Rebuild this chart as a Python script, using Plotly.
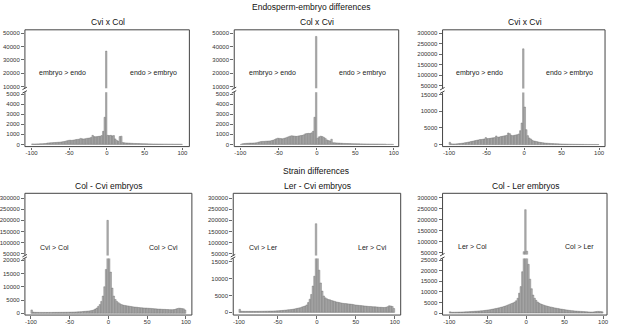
import plotly.graph_objects as go

W, H = 617, 325

# ---------------- data ----------------
bin_left = list(range(-100, 100, 2))          # histogram bins of width 2
bin_centers = [b + 1 for b in bin_left]

cvi_x_col = [50, 40, 40, 50, 50, 60, 60, 70, 80, 90,
             140, 150, 160, 170, 180, 190, 200, 210, 220, 240,
             260, 280, 320, 360, 400, 420, 400, 420, 450, 480,
             500, 520, 600, 560, 540, 560, 600, 620, 640, 700,
             900, 780, 760, 780, 800, 820, 880, 1300, 2700, 36500,
             900, 880, 900, 850, 880, 550, 400, 320, 780, 820,
             180, 160, 150, 140, 130, 120, 110, 100, 95, 90,
             85, 80, 75, 70, 65, 60, 55, 50, 50, 45,
             40, 40, 35, 35, 30, 30, 30, 25, 25, 25,
             20, 20, 20, 20, 15, 15, 15, 15, 10, 10]

col_x_cvi = [0, 60, 80, 100, 110, 120, 130, 130, 140, 150,
             160, 200, 250, 280, 300, 300, 320, 330, 340, 350,
             380, 420, 480, 560, 620, 600, 580, 560, 600, 650,
             700, 760, 820, 860, 840, 820, 800, 820, 850, 880,
             900, 950, 1050, 1080, 1100, 1080, 1150, 1300, 2700, 47500,
             620, 760, 820, 780, 700, 600, 450, 380, 350, 520,
             170, 160, 150, 140, 130, 120, 110, 100, 95, 90,
             85, 80, 75, 70, 65, 60, 55, 55, 50, 50,
             45, 45, 40, 40, 35, 35, 35, 30, 30, 30,
             25, 25, 25, 20, 20, 0, 0, 0, 0, 0]

cvi_x_cvi = [700, 250, 200, 200, 220, 250, 300, 350, 400, 450,
             550, 600, 700, 800, 900, 1000, 1100, 1200, 1300, 1400,
             1500, 1550, 1600, 1700, 2100, 1800, 1850, 1900, 2000, 2050,
             2100, 2600, 2200, 2300, 2400, 2500, 2600, 2700, 2800, 3500,
             3300, 2800, 2700, 2800, 2900, 3000, 3200, 4200, 6500, 225000,
             11300, 4500, 2700, 2000, 1700, 1300, 1100, 1000, 900, 800,
             700, 620, 560, 500, 450, 420, 380, 350, 320, 300,
             280, 260, 240, 220, 200, 180, 170, 160, 150, 140,
             130, 120, 110, 100, 95, 90, 85, 80, 75, 70,
             65, 60, 55, 50, 50, 45, 45, 40, 40, 35]

col_cvi_emb = [1300, 500, 400, 380, 380, 370, 370, 360, 360, 360,
               360, 360, 370, 370, 380, 380, 390, 390, 400, 400,
               410, 420, 430, 440, 450, 470, 480, 500, 520, 550,
               580, 600, 650, 700, 750, 800, 850, 900, 1000, 1100,
               1300, 1600, 2000, 2600, 3300, 4500, 6500, 10000, 16500, 200000,
               30000, 15500, 9500, 6500, 5200, 4500, 4000, 3600, 3300, 3100,
               3000, 2900, 2800, 2700, 2600, 2500, 2400, 2350, 2300, 2200,
               2150, 2100, 2050, 2000, 2000, 1950, 1900, 1850, 1800, 1750,
               1700, 1650, 1600, 1600, 1550, 1500, 1500, 1450, 1450, 1400,
               1400, 1400, 1450, 1600, 1800, 1950, 1900, 1800, 1700, 1300]

ler_cvi_emb = [900, 350, 300, 300, 300, 300, 300, 300, 300, 300,
               300, 300, 310, 320, 330, 340, 350, 360, 370, 380,
               390, 400, 420, 440, 460, 480, 520, 560, 600, 650,
               700, 750, 800, 850, 900, 1000, 1100, 1200, 1300, 1400,
               1600, 1750, 1900, 2200, 2900, 3900, 5300, 7800, 10700, 185000,
               30000, 12500, 8700, 6300, 4850, 4300, 4000, 3800, 3700, 3500,
               3400, 3250, 3100, 3000, 2900, 2800, 2700, 2650, 2600, 2550,
               2500, 2450, 2400, 2300, 2200, 2150, 2100, 2050, 2000, 1950,
               1900, 1850, 1800, 1750, 1750, 1700, 1650, 1650, 1600, 1550,
               1500, 1500, 1450, 1450, 1500, 1700, 1950, 1900, 1750, 1150]

col_ler_emb = [600, 400, 400, 420, 440, 460, 480, 500, 520, 550,
               580, 600, 650, 700, 750, 800, 850, 900, 950, 1000,
               1050, 1100, 1200, 1300, 1400, 1500, 1600, 1750, 1900, 2050,
               2200, 2350, 2500, 2700, 2900, 3100, 3350, 3600, 3900, 4200,
               4500, 4800, 5200, 5800, 7000, 9400, 12500, 19500, 55000, 245000,
               57000, 23000, 16000, 11500, 8500, 7000, 6000, 5200, 4700, 4300,
               4000, 3750, 3500, 3300, 3100, 2900, 2800, 2600, 2450, 2300,
               2200, 2050, 1900, 1800, 1700, 1550, 1450, 1350, 1250, 1150,
               1100, 1000, 950, 900, 850, 800, 750, 700, 650, 600,
               550, 520, 500, 520, 600, 700, 800, 800, 700, 600]

panel_titles = ["Cvi x Col", "Col x Cvi", "Cvi x Cvi",
                "Col - Cvi embryos", "Ler - Cvi embryos", "Col - Ler embryos"]
left_labels = ["embryo > endo", "embryo > endo", "embryo > endo",
               "Cvi > Col", "Cvi > Ler", "Ler > Col"]
right_labels = ["endo > embryo", "endo > embryo", "endo > embryo",
                "Col > Cvi", "Ler > Cvi", "Col > Ler"]
row_titles = ["Endosperm-embryo differences", "Strain differences"]

x_ticks = [-100, -50, 0, 50, 100]
lower_ticks = [[0, 1000, 2000, 3000, 4000, 5000],
               [0, 1000, 2000, 3000, 4000, 5000],
               [0, 5000, 10000, 15000],
               [0, 5000, 10000, 15000, 20000],
               [0, 5000, 10000, 15000],
               [0, 5000, 10000, 15000, 20000, 25000]]
upper_ticks = [[10000, 20000, 30000, 40000, 50000],
               [10000, 20000, 30000, 40000, 50000],
               [50000, 100000, 150000, 200000, 250000, 300000],
               [50000, 100000, 150000, 200000, 250000, 300000],
               [50000, 100000, 150000, 200000, 250000, 300000],
               [50000, 100000, 150000, 200000, 250000, 300000]]

series = [cvi_x_col, col_x_cvi, cvi_x_cvi, col_cvi_emb, ler_cvi_emb, col_ler_emb]

# ---------------- geometry (pixels) ----------------
geom = [
    dict(x0=25, x1=190, xm=31.7, xp=183.0, T=29, B=146.5, ut=87.7, lt=91.7,
         lo=(0, 144.3, 10.12e-3), up=(10000, 86.0, 1.343e-3)),
    dict(x0=235, x1=400, xm=241.0, xp=395.0, T=29, B=146.5, ut=87.7, lt=91.7,
         lo=(0, 144.3, 10.12e-3), up=(10000, 86.0, 1.343e-3)),
    dict(x0=444, x1=607, xm=450.5, xp=601.0, T=29, B=146.5, ut=88.0, lt=92.0,
         lo=(0, 144.5, 3.347e-3), up=(50000, 85.0, 0.2108e-3)),
    dict(x0=25, x1=192.5, xm=31.0, xp=186.5, T=193.5, B=316.0, ut=256.0, lt=259.0,
         lo=(0, 314.3, 2.68e-3), up=(50000, 254.3, 0.224e-3)),
    dict(x0=234, x1=402, xm=239.7, xp=396.0, T=193.5, B=316.0, ut=256.0, lt=259.0,
         lo=(0, 313.3, 3.4e-3), up=(50000, 254.3, 0.224e-3)),
    dict(x0=444, x1=609, xm=450.8, xp=605.0, T=193.5, B=316.0, ut=255.0, lt=259.0,
         lo=(0, 314.0, 2.132e-3), up=(50000, 253.3, 0.2224e-3)),
]

def px(x):
    return x / W

def py(y):
    return 1 - y / H

FONT = "Liberation Sans, Arial, Helvetica, sans-serif"
AX = "#444444"
BAR_FILL = "#b3b3b3"
BAR_LINE = "#5a5a5a"

fig = go.Figure()
layout = dict(width=W, height=H, margin=dict(l=0, r=0, t=0, b=0),
              paper_bgcolor="white", plot_bgcolor="white",
              barmode="overlay", bargap=0, showlegend=False,
              font=dict(family=FONT, color="#222222"))
shapes = []
annotations = []

for k, (vals, g) in enumerate(zip(series, geom)):
    xn = k + 1
    yl, yu = 2 * k + 1, 2 * k + 2
    xname = "x" if xn == 1 else f"x{xn}"
    ylname = "y" if yl == 1 else f"y{yl}"
    yuname = f"y{yu}"

    for yname in (ylname, yuname):
        fig.add_trace(go.Bar(x=bin_centers, y=vals, width=2,
                             xaxis=xname, yaxis=yname,
                             marker=dict(color=BAR_FILL,
                                         line=dict(color=BAR_LINE, width=0.35)),
                             hoverinfo="skip"))

    s = (g["xp"] - g["xm"]) / 200.0
    xr = [-100 - (g["xm"] - g["x0"]) / s, 100 + (g["x1"] - g["xp"]) / s]
    lv, lp, lk = g["lo"]
    uv, up_, uk = g["up"]
    lr = [lv - (g["B"] - lp) / lk, lv + (lp - g["lt"]) / lk]
    ur = [uv - (g["ut"] - up_) / uk, uv + (up_ - g["T"]) / uk]

    tickfont = dict(size=6, color="#333333", family=FONT)
    layout["xaxis" if xn == 1 else f"xaxis{xn}"] = dict(
        domain=[px(g["x0"]), px(g["x1"])], anchor=ylname, range=xr,
        tickvals=x_ticks, ticktext=[str(v) for v in x_ticks],
        ticks="outside", ticklen=2.5, tickwidth=0.8, tickcolor=AX,
        ticklabelstandoff=-2, fixedrange=True,
        tickfont=tickfont, showgrid=False, zeroline=False, showline=False)
    layout["yaxis" if yl == 1 else f"yaxis{yl}"] = dict(
        domain=[py(g["B"]), py(g["lt"])], anchor=xname, range=lr,
        tickvals=lower_ticks[k], ticktext=[str(v) for v in lower_ticks[k]],
        ticks="outside", ticklen=3, tickwidth=0.8, tickcolor=AX, fixedrange=True,
        tickfont=tickfont, showgrid=False, zeroline=False, showline=False)
    layout[f"yaxis{yu}"] = dict(
        domain=[py(g["ut"]), py(g["T"])], anchor=xname, range=ur,
        tickvals=upper_ticks[k], ticktext=[str(v) for v in upper_ticks[k]],
        ticks="outside", ticklen=3, tickwidth=0.8, tickcolor=AX, fixedrange=True,
        tickfont=tickfont, showgrid=False, zeroline=False, showline=False)

    segs = [((g["x0"], g["B"]), (g["x1"], g["B"])),
            ((g["x0"], g["T"]), (g["x1"], g["T"])),
            ((g["x1"], g["T"]), (g["x1"], g["B"])),
            ((g["x0"], g["B"]), (g["x0"], g["lt"])),
            ((g["x0"], g["ut"]), (g["x0"], g["T"])),
            ((g["x0"] - 2.5, g["lt"] + 1.0), (g["x0"] + 2.0, g["lt"] - 1.5)),
            ((g["x0"] - 2.5, g["ut"] + 1.5), (g["x0"] + 2.0, g["ut"] - 1.0))]
    for (a, b) in segs:
        shapes.append(dict(type="line", xref="paper", yref="paper",
                           x0=px(a[0]), y0=py(a[1]), x1=px(b[0]), y1=py(b[1]),
                           line=dict(color=AX, width=1)))

    cx = (g["x0"] + g["x1"]) / 2
    ty = g["T"] - 7.5
    annotations.append(dict(text=panel_titles[k], x=px(cx + 1), y=py(ty),
                            xref="paper", yref="paper", showarrow=False,
                            xanchor="center", yanchor="middle",
                            font=dict(size=8.5, color="#111111", family=FONT)))
    ly = (g["T"] + g["ut"]) / 2 + 14 if k < 3 else (g["T"] + g["ut"]) / 2 + 23
    lx = g["x0"] + 0.23 * (g["x1"] - g["x0"])
    rx = g["x0"] + 0.78 * (g["x1"] - g["x0"])
    if k >= 3:
        lx = g["x0"] + 0.18 * (g["x1"] - g["x0"])
        rx = g["x0"] + 0.83 * (g["x1"] - g["x0"])
    for t, xx in ((left_labels[k], lx), (right_labels[k], rx)):
        annotations.append(dict(text=t, x=px(xx), y=py(ly),
                                xref="paper", yref="paper", showarrow=False,
                                xanchor="center", yanchor="middle",
                                font=dict(size=7, color="#222222", family=FONT)))

annotations.append(dict(text=row_titles[0], x=px(312), y=py(6.5), xref="paper",
                        yref="paper", showarrow=False, xanchor="center",
                        yanchor="middle",
                        font=dict(size=8.5, color="#111111", family=FONT)))
annotations.append(dict(text=row_titles[1], x=px(317), y=py(171.5), xref="paper",
                        yref="paper", showarrow=False, xanchor="center",
                        yanchor="middle",
                        font=dict(size=8.5, color="#111111", family=FONT)))

layout["shapes"] = shapes
layout["annotations"] = annotations
layout["hovermode"] = False
fig.update_layout(**layout)
fig.write_html("out.html",
               config={"displayModeBar": False, "staticPlot": True},
               post_script="document.body.style.margin='0';"
                           "document.body.style.padding='0';")
